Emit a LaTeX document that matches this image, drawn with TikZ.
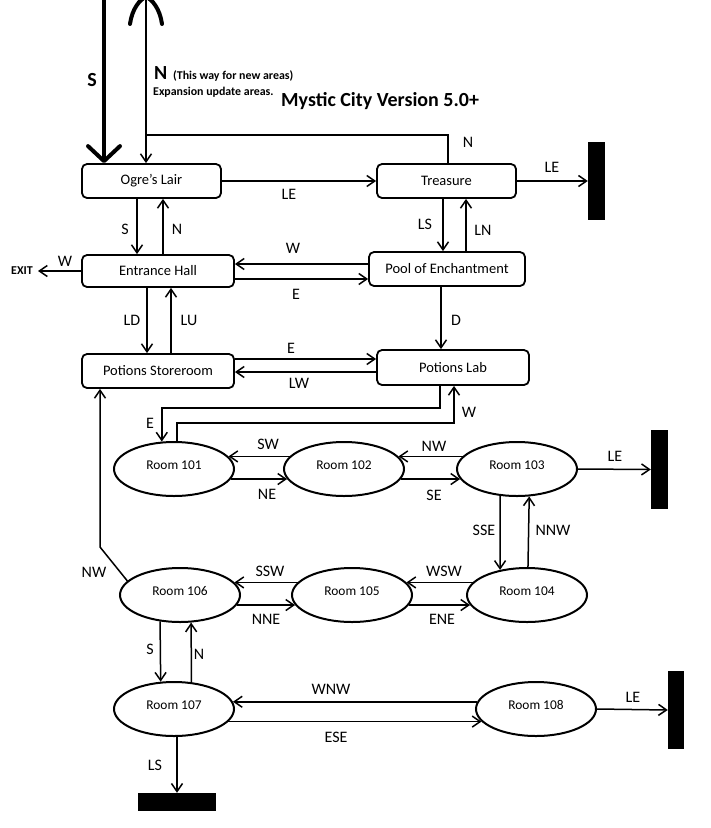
\documentclass[tikz,border=0pt]{standalone}
\usepackage{fontspec}
\setmainfont{Carlito}
\usetikzlibrary{arrows.meta,shapes.geometric}
\begin{document}
\begin{tikzpicture}[x=1pt,y=-1pt,
  box/.style={draw, line width=1.8pt, rounded corners=5pt, inner sep=0pt, font=\fontsize{14.5}{17}\selectfont},
  room/.style={draw, ellipse, line width=2pt, minimum width=120pt, minimum height=54pt, inner sep=0pt, text depth=8pt, font=\fontsize{13.4}{16}\selectfont},
  bar/.style={fill=black, inner sep=0pt},
  lbl/.style={font=\fontsize{16}{19}\selectfont, inner sep=0pt},
  arr/.style={line width=1.5pt, -{Straight Barb[length=8pt,width=11pt]}},
  ln/.style={line width=1.5pt},
]
\useasboundingbox (0,0) rectangle (711,828);

% boxes
\node[box, minimum width=139pt, minimum height=34pt] (ogre) at (151.5,181) {Ogre’s Lair};
\node[box, minimum width=139pt, minimum height=34pt] (treasure) at (446.5,181) {Treasure};
\node[box, minimum width=152pt, minimum height=32pt] (hall) at (158,271) {Entrance Hall};
\node[box, minimum width=156pt, minimum height=34pt] (pool) at (447,269) {Pool of Enchantment};
\node[box, minimum width=152pt, minimum height=34pt] (store) at (158,371) {Potions Storeroom};
\node[box, minimum width=152pt, minimum height=35pt] (lab) at (453,367.5) {Potions Lab};

% rooms
\node[room] (r101) at (174,469) {Room 101};
\node[room] (r102) at (344,469) {Room 102};
\node[room] (r103) at (517,469) {Room 103};
\node[room] (r104) at (527,595) {Room 104};
\node[room] (r105) at (352,595) {Room 105};
\node[room] (r106) at (180,595) {Room 106};
\node[room] (r107) at (174,709) {Room 107};
\node[room] (r108) at (536,709) {Room 108};

% bars
\node[bar, minimum width=17pt, minimum height=78pt] (bar1) at (596.5,181) {};
\node[bar, minimum width=17pt, minimum height=79pt] (bar2) at (659.5,469.5) {};
\node[bar, minimum width=16pt, minimum height=78pt] (bar3) at (676,710) {};
\node[bar, minimum width=78pt, minimum height=18pt] (bar4) at (177,802) {};

\node[font=\bfseries\fontsize{12}{14}\selectfont, inner sep=0pt] (exit) at (22,271) {EXIT};

% top texts
\node[font=\bfseries\fontsize{20}{24}\selectfont, inner sep=0pt] (bigS) at (92,80) {S};
\node[font=\bfseries\fontsize{20}{24}\selectfont, inner sep=0pt, anchor=base west] (bigN) at (154,79) {N};
\node[font=\bfseries\fontsize{11.9}{14}\selectfont, inner sep=0pt, anchor=base west] (newareas) at (173,79) {(This way for new areas)};
\node[font=\bfseries\fontsize{11.9}{14}\selectfont, inner sep=0pt, anchor=base west] (expansion) at (153,95) {Expansion update areas.};
\node[font=\bfseries\fontsize{20}{24}\selectfont, inner sep=0pt, anchor=base west] (title) at (281,106) {Mystic City Version 5.0+};

% big S arrow
\coordinate (stop) at (104,-5);
\draw[line width=4pt, -{Straight Barb[length=15pt,width=32pt,round]}] (stop) -- (ogre.north -| stop);

% big N arrow and treasure link
\coordinate (njunc) at (146,135);
\coordinate (ntop) at (146,-3);
\coordinate (tcol) at (448,0);
\draw[ln] (treasure.north -| tcol) -- (tcol |- njunc) -- (njunc);
\draw[arr] (njunc) -- (ogre.north -| njunc);
\draw[ln] (njunc) -- (ntop);
\draw[line width=4pt, line cap=round, line join=round]
  ([shift={(-16,27)}]ntop) .. controls ([shift={(-14,12)}]ntop) and ([shift={(-6,2)}]ntop) .. (ntop)
  .. controls ([shift={(6,2)}]ntop) and ([shift={(14,12)}]ntop) .. ([shift={(16,27)}]ntop);

% ogre / treasure
\draw[arr] (ogre.east) -- (treasure.west);
\draw[arr] (treasure.east) -- (bar1.west);
\draw[arr] ([xshift=-3.5pt]treasure.south) -- ([xshift=-3.5pt]treasure.south |- pool.north);
\draw[arr] ([xshift=19.5pt]treasure.south |- pool.north) -- ([xshift=19.5pt]treasure.south);
\draw[arr] ([xshift=-14.5pt]ogre.south) -- ([xshift=-14.5pt]ogre.south |- hall.north);
\draw[arr] ([xshift=11.5pt]ogre.south |- hall.north) -- ([xshift=11.5pt]ogre.south);

% hall
\draw[arr, shorten >=5pt] (hall.west) -- (exit.east);
\draw[arr] ([yshift=5pt]pool.west) -- ([yshift=5pt]pool.west -| hall.east);
\draw[arr] ([yshift=-8pt]hall.east) -- ([yshift=-8pt]hall.east -| pool.west);
\draw[arr] ([xshift=-11pt]hall.south) -- ([xshift=-11pt]hall.south |- store.north);
\draw[arr] ([xshift=13pt]hall.south |- store.north) -- ([xshift=13pt]hall.south);
\draw[arr] ([xshift=-6pt]pool.south) -- ([xshift=-6pt]pool.south |- lab.north);

% store / lab
\draw[arr] ([yshift=12pt]store.east) -- ([yshift=12pt]store.east -| lab.west);
\draw[arr] ([yshift=-4.5pt]lab.west) -- ([yshift=-4.5pt]lab.west -| store.east);
\coordinate (wy) at (0,423);
\draw[arr] ([xshift=-13pt]lab.south) -- ++(0,22) -| (r101.114);
\draw[arr] (r101.84) |- ([xshift=1pt]lab.south |- wy) -- ([xshift=1pt]lab.south);
\coordinate (nwc) at (100,547);
\draw[arr] (r106.165) -- (nwc) -- (nwc |- store.south);

% row 1
\draw[arr] (r102.167) -- (r101.13);
\draw[arr] (r101.350) -- (r102.190);
\draw[arr] (r103.167) -- (r102.13);
\draw[arr] (r102.350) -- (r103.190);
\draw[arr] (r103.east) -- (bar2.west);
\draw[arr] (r103.238) -- (r104.137);
\draw[arr] (r104.88) -- (r103.294);

% row 2
\draw[arr] (r104.167) -- (r105.13);
\draw[arr] (r105.350) -- (r104.190);
\draw[arr] (r105.167) -- (r106.13);
\draw[arr] (r106.350) -- (r105.190);
\draw[arr] (r106.233) -- (r107.116);
\draw[arr] (r107.57) -- (r106.292);

% row 3
\draw[arr] (r108.173) -- (r107.7);
\draw[arr] (r107.347) -- (r108.193);
\draw[arr] (r108.east) -- (bar3.west);
\draw[arr] (r107.south -| bar4.north) -- (bar4.north);

% labels
\node[lbl] (lN0) at (468,142) {N};
\node[lbl] (lLE1) at (289,194) {LE};
\node[lbl] (lLE2) at (552,167) {LE};
\node[lbl] (lS1) at (125,229) {S};
\node[lbl] (lN1) at (177,229) {N};
\node[lbl] (lLS1) at (425,224) {LS};
\node[lbl] (lLN1) at (483,230) {LN};
\node[lbl] (lW0) at (65,261) {W};
\node[lbl] (lW1) at (293,248) {W};
\node[lbl] (lE1) at (296,294) {E};
\node[lbl] (lLD) at (132,320) {LD};
\node[lbl] (lLU) at (189,320) {LU};
\node[lbl] (lD) at (456,320) {D};
\node[lbl] (lE2) at (291,348) {E};
\node[lbl] (lLW) at (299,383) {LW};
\node[lbl] (lE3) at (150,423) {E};
\node[lbl] (lW2) at (469,412) {W};
\node[lbl] (lSW) at (268,444) {SW};
\node[lbl] (lNE) at (267,494) {NE};
\node[lbl] (lNW1) at (434,446) {NW};
\node[lbl] (lSE) at (434,495) {SE};
\node[lbl] (lLE3) at (615,456) {LE};
\node[lbl] (lSSE) at (484,530) {SSE};
\node[lbl] (lNNW) at (553,530) {NNW};
\node[lbl] (lSSW) at (270,571) {SSW};
\node[lbl] (lNNE) at (266,619) {NNE};
\node[lbl] (lWSW) at (444,571) {WSW};
\node[lbl] (lENE) at (442,619) {ENE};
\node[lbl] (lNW2) at (94,572) {NW};
\node[lbl] (lS2) at (150,649) {S};
\node[lbl] (lN2) at (199,654) {N};
\node[lbl] (lWNW) at (331,689) {WNW};
\node[lbl] (lESE) at (336,737) {ESE};
\node[lbl] (lLS2) at (155,765) {LS};
\node[lbl] (lLE4) at (633,697) {LE};
\end{tikzpicture}
\end{document}
